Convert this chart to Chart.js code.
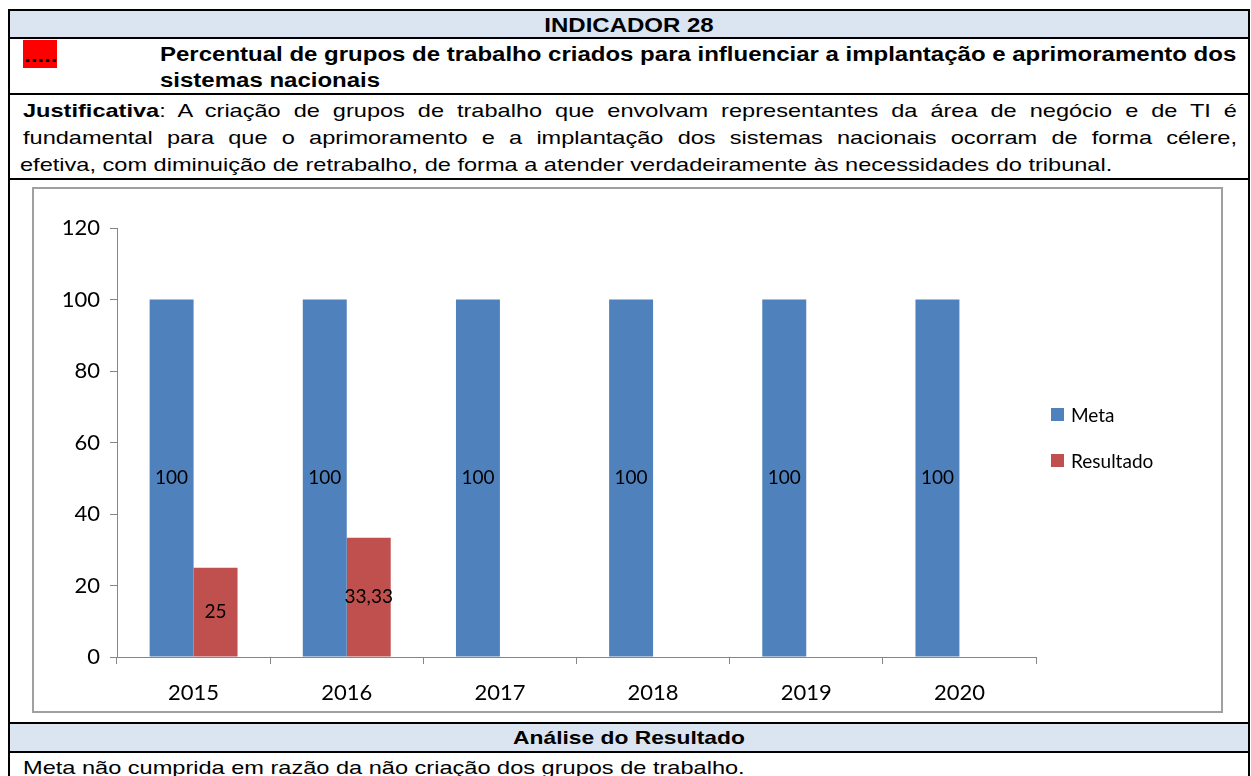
<!DOCTYPE html>
<html lang="pt-BR">
<head>
<meta charset="utf-8">
<title>Indicador 28</title>
<script src="https://cdn.jsdelivr.net/npm/chart.js@4.4.1/dist/chart.umd.min.js"></script>
<style>
  html, body { margin: 0; padding: 0; background: #fff; }
  body { width: 1251px; height: 776px; position: relative; overflow: hidden; }
  .linha-h { position: absolute; left: 8px; width: 1242px; height: 2px; background: #000; }
  .linha-v { position: absolute; top: 9px; width: 2px; height: 780px; background: #000; }
  .cab { position: absolute; left: 10px; width: 1238px; background: #dbe5f1; }
  .t {
    position: absolute; white-space: nowrap; line-height: 1;
    font-family: "Liberation Sans", Arial, sans-serif; color: #000;
    transform: scaleX(1.2); transform-origin: 0 0;
  }
  .centro { left: 10px; width: 1238px; text-align: center; transform-origin: 50% 0; }
  .b { font-weight: bold; font-size: 20px; }
  .n { font-size: 19px; transform: scaleX(1.24); }
  .just { left: 23px; width: 979px; white-space: normal; text-align: justify; text-align-last: justify; }
  #quadro { position: absolute; left: 32px; top: 187px; width: 1191px; height: 526px; box-sizing: border-box; border: 2px solid #a0a0a0; }
  #grafico { display: block; }
  #alerta { position: absolute; left: 23px; top: 40px; width: 34px; height: 28px; background: #ff0000; }
</style>
</head>
<body>
<!-- fundos dos cabeçalhos -->
<div class="cab" style="top:11px;height:26px"></div>
<div class="cab" style="top:724px;height:27px"></div>

<!-- bordas da tabela -->
<div class="linha-h" style="top:9px"></div>
<div class="linha-h" style="top:37px"></div>
<div class="linha-h" style="top:93px"></div>
<div class="linha-h" style="top:178px"></div>
<div class="linha-h" style="top:722px"></div>
<div class="linha-h" style="top:751px"></div>
<div class="linha-v" style="left:8px"></div>
<div class="linha-v" style="left:1248px"></div>

<div class="t b centro" style="top:15px">INDICADOR 28</div>

<div id="alerta"></div>
<div class="t b" style="left:24px;top:45px">.....</div>
<div class="t b" style="left:160px;top:44px">Percentual de grupos de trabalho criados para influenciar a implantação e aprimoramento dos</div>
<div class="t b" style="left:160px;top:70px">sistemas nacionais</div>

<div class="t n just" style="top:101px"><b>Justificativa</b>: A criação de grupos de trabalho que envolvam representantes da área de negócio e de TI é</div>
<div class="t n just" style="top:128px">fundamental para que o aprimoramento e a implantação dos sistemas nacionais ocorram de forma célere,</div>
<div class="t n" style="left:20px;top:155px">efetiva, com diminuição de retrabalho, de forma a atender verdadeiramente às necessidades do tribunal.</div>

<div id="quadro"><canvas id="grafico" width="1187" height="522"></canvas></div>

<div class="t centro" style="top:728px;font-weight:bold;font-size:19px">Análise do Resultado</div>
<div class="t n" style="left:23px;top:758px">Meta não cumprida em razão da não criação dos grupos de trabalho.</div>

<script>
// Dados
const anos = ['2015', '2016', '2017', '2018', '2019', '2020'];
const meta = [100, 100, 100, 100, 100, 100];
const resultado = [25, 33.33, null, null, null, null];
const eixoY = { min: 0, max: 120, passo: 20 };

const AZUL = '#4f81bd';
const VERMELHO = '#c0504d';

// rótulos no meio das barras + legenda à direita
const rotulos = {
    id: 'rotulos',
    afterDatasetsDraw(chart) {
        const ctx = chart.ctx;
        ctx.save();
        ctx.font = '19px Lato';
        ctx.fillStyle = '#000';
        ctx.textAlign = 'center';
        ctx.textBaseline = 'middle';
        chart.data.datasets.forEach((ds, i) => {
            chart.getDatasetMeta(i).data.forEach((barra, j) => {
                const v = ds.data[j];
                if (v === null || v === undefined) return;
                ctx.fillText(String(v).replace('.', ','), barra.x, (barra.y + barra.base) / 2);
            });
        });

        //Legenda
        const meio = (chart.chartArea.top + chart.chartArea.bottom) / 2 - 5;
        ctx.font = '19px Lato';
        ctx.textAlign = 'left';
        chart.data.datasets.forEach((ds, i) => {
            const y = meio - 23 + i * 46;
            ctx.fillStyle = ds.backgroundColor;
            ctx.fillRect(1017, y - 6.5, 13, 13);
            ctx.fillStyle = '#000';
            ctx.fillText(ds.label, 1037, y + 1);
        });
        ctx.restore();
    }
};

const ctx = document.getElementById('grafico').getContext('2d');
new Chart(ctx, {
    type: 'bar',
    data: {
        labels: anos,
        datasets: [
            { label: 'Meta', data: meta, backgroundColor: AZUL },
            { label: 'Resultado', data: resultado, backgroundColor: VERMELHO }
        ]
    },
    options: {
        responsive: false,
        animation: false,
        datasets: { bar: { categoryPercentage: 0.574, barPercentage: 1 } },
        layout: { padding: { top: 39, right: 185, left: 0, bottom: 0 } },
        plugins: { legend: { display: false }, tooltip: { enabled: false } },
        scales: {
            x: {
                afterFit: (s) => { s.height = 54; },
                grid: { drawOnChartArea: false, drawTicks: true, tickLength: 7, color: '#868686' },
                border: { color: '#868686' },
                ticks: { color: '#000', font: { family: 'Lato', size: 22 }, padding: 16 }
            },
            y: {
                min: eixoY.min,
                max: eixoY.max,
                afterFit: (s) => { s.width = 83; },
                grid: { drawOnChartArea: false, drawTicks: true, tickLength: 7, color: '#868686' },
                border: { color: '#868686' },
                ticks: { stepSize: eixoY.passo, color: '#000', font: { family: 'Lato', size: 22 }, padding: 10 }
            }
        }
    },
    plugins: [rotulos]
});
</script>
</body>
</html>
